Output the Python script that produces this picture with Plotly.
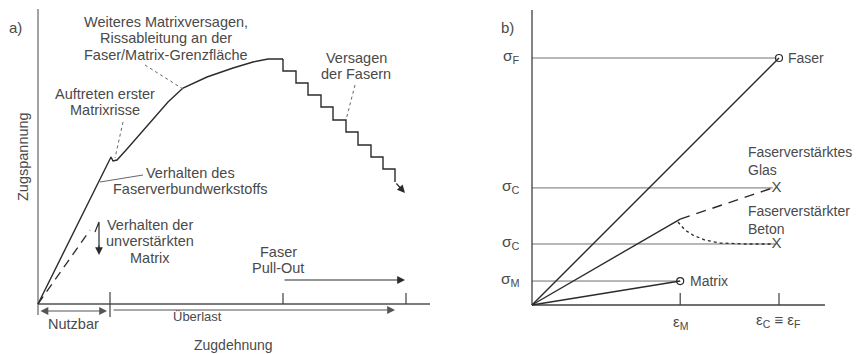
import plotly.graph_objects as go

# ---------------- Panel a) data (strain, stress in arbitrary units) ----------------
curve_strain = [0, 73, 75, 79, 89, 102, 117, 130, 145, 169, 195, 215, 230, 245]
curve_stress = [0, 147, 143, 144, 155, 170, 187, 202, 216, 227, 236, 242, 245, 245]

stair_strain = [245, 245, 258, 258, 270, 270, 283, 283, 295, 295, 308, 308,
                320, 320, 333, 333, 345, 345, 357, 357]
stair_stress = [245, 233, 233, 221, 221, 209, 209, 197, 197, 184, 184, 172,
                172, 159, 159, 147, 147, 135, 135, 122]
stair_arrow_end = [367, 111]

matrix_strain = [0, 52]
matrix_stress = [0, 74]

ticks_a = [72, 245, 368]
nutzbar_end = 69
ueberlast_range = [74, 357]
pullout_range = [245, 367]

# ---------------- Panel b) data (normalised strain / stress) ----------------
eps_M = 0.6
eps_F = 1.0
sig_F = 1.0
sig_C_glas = 0.474
sig_C_beton = 0.247
sig_M = 0.097
composite_eps = [0, 0.6]
composite_sig = [0, 0.348]
glas_eps = [0.6, 0.975]
glas_sig = [0.348, 0.474]
beton_eps = [0.591, 0.619, 0.652, 0.700, 0.761, 0.862, 0.976]
beton_sig = [0.336, 0.304, 0.283, 0.263, 0.251, 0.247, 0.247]

LINE = "#2b2b2b"
TXT = "#4a4a4a"
GRID = "#707070"
FONT = "Liberation Sans, Arial, sans-serif"
FS = 14.5
FSB = 14

# page body has an 8px margin -> figure is 854x346, drawn from (8, 8)
W, H, OFF = 854, 346, 8
SPLIT = 431 - OFF  # figure px where panel b starts
A_SCALE = 1.0      # px per unit in panel a
B_SCALE = 247.0    # px per unit in panel b

fig = go.Figure()

def line(x, y, xa="x", ya="y", color=LINE, width=1.3, dash=None):
    fig.add_trace(go.Scatter(x=x, y=y, mode="lines", xaxis=xa, yaxis=ya,
                             line=dict(color=color, width=width, dash=dash),
                             hoverinfo="skip", showlegend=False))

# ---- panel a ----
line([0, 0], [-11, 295], color=GRID, width=1.3)
line([0, 392], [0, 0], color="#505050", width=1.3)
line([ticks_a[0], ticks_a[0]], [-13, 12], color="#404040", width=1.2)
for t in ticks_a[1:]:
    line([t, t], [0, 11], color="#404040", width=1.2)
line(curve_strain, curve_stress, width=1.4)
line(stair_strain, stair_stress, width=1.4)
line(matrix_strain, matrix_stress, width=1.3, dash="9px,6px")
line([57, 61, 61], [72, 82, 52], width=1.2)
# leader lines
line([107, 145], [239, 215], color="#666", width=1, dash="dot")
line([85, 77], [182, 146], color="#666", width=1, dash="dot")
line([62, 105], [122, 129], color="#666", width=1)
line([317, 308], [219, 184], color="#666", width=1, dash="dot")

annots = []

def arrow(x, y, ax, ay, xr="x", yr="y", both=False, color=LINE, width=1.2):
    d = dict(x=x, y=y, ax=ax, ay=ay, xref=xr, yref=yr, axref=xr, ayref=yr,
             text="", showarrow=True, arrowhead=2, arrowsize=1.3,
             arrowwidth=width, arrowcolor=color)
    if both:
        d.update(arrowside="end+start", startarrowhead=2, startarrowsize=1.3)
    annots.append(d)

arrow(stair_arrow_end[0], stair_arrow_end[1], stair_strain[-1], stair_stress[-1])
arrow(61, 49, 61, 60)
arrow(nutzbar_end, -7, 1, -7, both=True, color="#555")
arrow(ueberlast_range[1], -6, ueberlast_range[0], -6, color="#555")
arrow(pullout_range[1], 24, pullout_range[0], 24)

def text(x, y, lines, xr="x", yr="y", size=FS, xanchor="center", angle=0,
         color=TXT, spacing=16.5):
    if isinstance(lines, str):
        lines = [lines]
    scale = A_SCALE if yr == "y" else B_SCALE
    n = len(lines)
    for i, s in enumerate(lines):
        yy = y + ((n - 1) / 2 - i) * spacing / scale
        annots.append(dict(x=x, y=yy, xref=xr, yref=yr, text=s, showarrow=False,
                           xanchor=xanchor, yanchor="middle", textangle=angle,
                           font=dict(family=FONT, size=size, color=color)))

text(-23, 277, "a)", size=15)
text(128, 266, ["Weiteres Matrixversagen,", "Rissableitung an der", "Faser/Matrix-Grenzfläche"])
text(67, 202, ["Auftreten erster", "Matrixrisse"])
text(152, 123, ["Verhalten des", "Faserverbundwerkstoffs"])
text(112, 63, ["Verhalten der", "unverstärkten", "Matrix"])
text(318, 238, ["Versagen", "der Fasern"])
text(240, 44, ["Faser", "Pull-Out"])
text(35, -20, "Nutzbar")
text(159, -12, "Überlast", size=13)
text(195, -41, "Zugdehnung", size=14)
text(-15, 147, "Zugspannung", angle=-90)

# ---- panel b ----
xb, yb = "x2", "y2"
for s, xe in [(sig_F, 0.99), (sig_C_glas, 0.975), (sig_C_beton, 0.985), (sig_M, eps_M - 0.01)]:
    line([0, xe], [s, s], xa=xb, ya=yb, color=GRID, width=1)
line([0, 0], [0, 1.194], xa=xb, ya=yb, color="#404040", width=1.3)
line([0, 1.186], [0, 0], xa=xb, ya=yb, color="#404040", width=1.3)
for e in [eps_M, eps_F]:
    line([e, e], [0, 0.049], xa=xb, ya=yb, color="#404040", width=1.2)
line([0, eps_F], [0, sig_F], xa=xb, ya=yb, width=1.4)
line(composite_eps, composite_sig, xa=xb, ya=yb, width=1.4)
line([0, eps_M], [0, sig_M], xa=xb, ya=yb, width=1.4)
line(glas_eps, glas_sig, xa=xb, ya=yb, width=1.4, dash="10px,7px")
line(beton_eps, beton_sig, xa=xb, ya=yb, width=1.3, dash="3px,3px")
fig.add_trace(go.Scatter(x=[eps_F, eps_M], y=[sig_F, sig_M], mode="markers",
                         xaxis=xb, yaxis=yb, hoverinfo="skip", showlegend=False,
                         marker=dict(symbol="circle-open", size=7,
                                     color=LINE, line=dict(width=1.2))))
fig.add_trace(go.Scatter(x=[0.99, 0.99], y=[sig_C_glas, sig_C_beton], mode="text",
                         xaxis=xb, yaxis=yb, hoverinfo="skip", showlegend=False,
                         text=["X", "X"], textfont=dict(family=FONT, size=15, color=TXT)))

text(-0.10, 1.125, "b)", xr=xb, yr=yb, size=15)
for s, lab in [(sig_F, "σ<sub>F</sub>"), (sig_C_glas, "σ<sub>C</sub>"),
               (sig_C_beton, "σ<sub>C</sub>"), (sig_M, "σ<sub>M</sub>")]:
    text(-0.04, s + 0.005, lab, xr=xb, yr=yb, xanchor="right", size=15.5)
text(1.03, sig_F, "Faser", xr=xb, yr=yb, xanchor="left", size=FSB)
text(0.866, 0.583, ["Faserverstärktes", "Glas"], xr=xb, yr=yb, xanchor="left",
     size=FSB, spacing=18.5)
text(0.866, 0.345, ["Faserverstärkter", "Beton"], xr=xb, yr=yb, xanchor="left",
     size=FSB, spacing=18)
text(0.632, sig_M, "Matrix", xr=xb, yr=yb, xanchor="left", size=FSB)
text(eps_M, -0.069, "ε<sub>M</sub>", xr=xb, yr=yb, size=15)
text(0.996, -0.063, "ε<sub>C</sub> ≡ ε<sub>F</sub>", xr=xb, yr=yb, size=15)

def rng(px0, px1, origin_px, scale, invert=False):
    if invert:
        return [(origin_px - px0) / scale, (origin_px - px1) / scale]
    return [(px0 - origin_px) / scale, (px1 - origin_px) / scale]

ax_off = dict(visible=False, showgrid=False, zeroline=False, fixedrange=True)
fig.update_layout(
    width=W, height=H,
    margin=dict(l=0, r=0, t=0, b=0),
    paper_bgcolor="white", plot_bgcolor="white",
    showlegend=False,
    xaxis=dict(domain=[0, SPLIT / W], range=rng(OFF, 431, 38, A_SCALE), **ax_off),
    yaxis=dict(domain=[0, 1], range=rng(354, OFF, 304, A_SCALE, True), anchor="x", **ax_off),
    xaxis2=dict(domain=[SPLIT / W, 1], range=rng(431, 862, 532, B_SCALE), anchor="y2", **ax_off),
    yaxis2=dict(domain=[0, 1], range=rng(354, OFF, 305, B_SCALE, True), anchor="x2", **ax_off),
    annotations=annots,
)

fig.write_html("out.html")
